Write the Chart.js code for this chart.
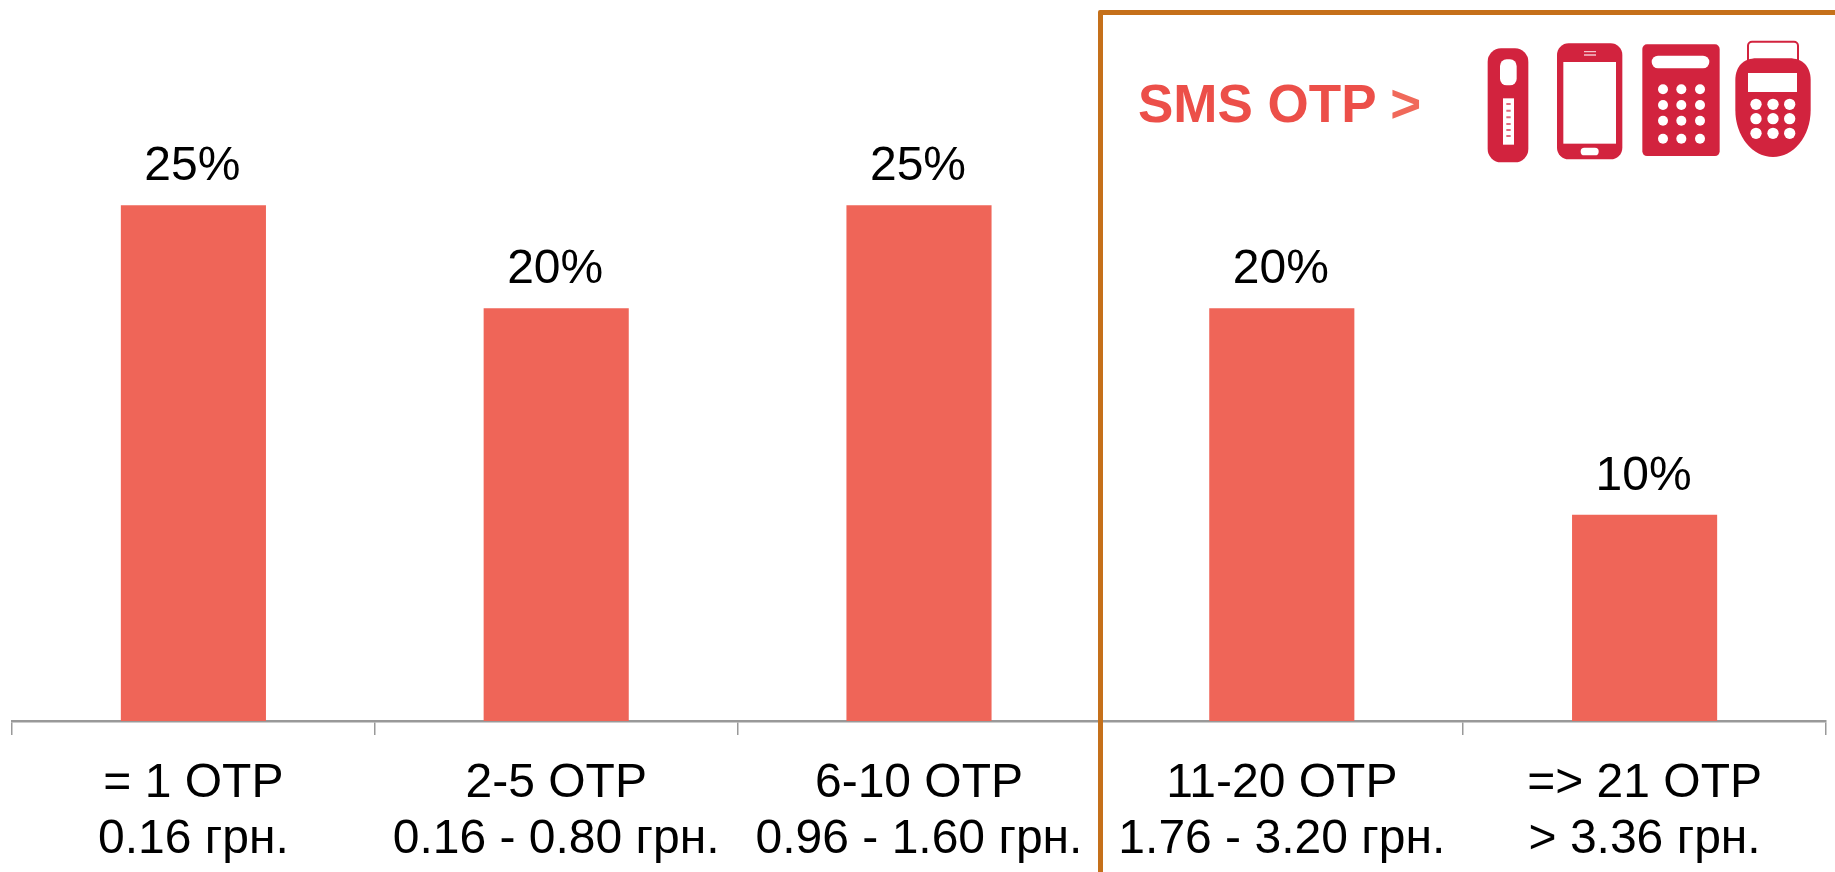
<!DOCTYPE html>
<html>
<head>
<meta charset="utf-8">
<title>SMS OTP</title>
<script src="https://cdn.jsdelivr.net/npm/chart.js@4/dist/chart.umd.min.js"></script>
<style>
    html, body { margin: 0; padding: 0; background: #fff; overflow: hidden; }
    #wrap { position: relative; width: 1835px; height: 872px; overflow: hidden; }
    #frame { position: absolute; left: 1098px; top: 10px; width: 800px; height: 900px; border: 5px solid #c5701a; border-radius: 2px; }
    #smsText { position: absolute; left: 1138px; top: 74px; font: bold 53px/60px "Liberation Sans", Arial, sans-serif; color: #ec4f49; white-space: pre; }
    #smsText span { color: #f0695a; }
    #icons { position: absolute; left: 1460px; top: 30px; }
</style>
</head>
<body>
<div id="wrap">
    <canvas id="otpChart" width="1835" height="872"></canvas>
    <div id="frame"></div>
    <div id="smsText">SMS OTP <span>&gt;</span></div>
    <svg id="icons" width="375" height="150" viewBox="0 0 1125 450">
        <!-- fob -->
        <rect x="83" y="55" width="122" height="342" rx="40" fill="#d2233e"/>
        <rect x="120" y="88" width="50" height="78" rx="20" fill="#fff"/>
        <rect x="129" y="205" width="33" height="139" fill="#fff"/>
        <path d="M139 222h13M139 242h13M139 262h13M139 282h13M139 300h13M139 318h13" stroke="#e06a7c" stroke-width="6" fill="none"/>
        <!-- phone -->
        <rect x="291" y="40" width="196" height="348" rx="35" fill="#d2233e"/>
        <rect x="310" y="96" width="158" height="245" fill="#fff"/>
        <path d="M372 65h36M372 75h36" stroke="#f3c3cb" stroke-width="4" fill="none"/>
        <rect x="362" y="353" width="54" height="23" rx="11" fill="#fff"/>
        <!-- calculator -->
        <rect x="547" y="43" width="232" height="335" rx="14" fill="#d2233e"/>
        <rect x="575" y="77" width="173" height="38" rx="19" fill="#fff"/>
        <g fill="#fff">
            <circle cx="609" cy="178" r="15"/><circle cx="664" cy="178" r="15"/><circle cx="720" cy="178" r="15"/>
            <circle cx="609" cy="225" r="15"/><circle cx="664" cy="225" r="15"/><circle cx="720" cy="225" r="15"/>
            <circle cx="609" cy="272" r="15"/><circle cx="664" cy="272" r="15"/><circle cx="720" cy="272" r="15"/>
            <circle cx="609" cy="326" r="15"/><circle cx="664" cy="326" r="15"/><circle cx="720" cy="326" r="15"/>
        </g>
        <!-- card reader -->
        <rect x="864" y="35" width="150" height="75" rx="12" fill="#fff" stroke="#d2233e" stroke-width="6"/>
        <path d="M826 150C826 110 850 85 890 85H988C1028 85 1052 110 1052 150V240C1052 320 1000 381 939 381C878 381 826 320 826 240Z" fill="#d2233e"/>
        <rect x="864" y="129" width="147" height="57" fill="#fff"/>
        <g fill="#fff">
            <circle cx="888" cy="223" r="17"/><circle cx="939" cy="223" r="17"/><circle cx="989" cy="223" r="17"/>
            <circle cx="888" cy="266" r="17"/><circle cx="939" cy="266" r="17"/><circle cx="989" cy="266" r="17"/>
            <circle cx="888" cy="310" r="17"/><circle cx="939" cy="310" r="17"/><circle cx="989" cy="310" r="17"/>
        </g>
    </svg>
</div>
<script>
const categories = [
    ['= 1 OTP', '0.16 грн.'],
    ['2-5 OTP', '0.16 - 0.80 грн.'],
    ['6-10 OTP', '0.96 - 1.60 грн.'],
    ['11-20 OTP', '1.76 - 3.20 грн.'],
    ['=> 21 OTP', '> 3.36 грн.']
];
const shares = [25, 20, 25, 20, 10];

const FONT = '"Liberation Sans", Arial, sans-serif';

// percent labels above the bars
const barLabels = {
    id: 'barLabels',
    afterDatasetsDraw(chart) {
        const ctx = chart.ctx;
        ctx.save();
        ctx.font = '48px ' + FONT;
        ctx.fillStyle = '#000';
        ctx.textAlign = 'center';
        ctx.textBaseline = 'alphabetic';
        chart.getDatasetMeta(0).data.forEach((bar, i) => {
            ctx.fillText(shares[i] + '%', bar.x - 1, bar.y - 25);
        });
        ctx.restore();
    }
};

new Chart(document.getElementById('otpChart').getContext('2d'), {
    type: 'bar',
    data: {
        labels: categories,
        datasets: [{
            data: shares,
            backgroundColor: '#ef6558',
            categoryPercentage: 1,
            barPercentage: 0.4
        }]
    },
    options: {
        responsive: false,
        animation: false,
        layout: { padding: { left: 12, right: 9, top: 102, bottom: 0 } },
        plugins: { legend: { display: false }, tooltip: { enabled: false } },
        scales: {
            x: {
                afterFit: (scale) => { scale.height = 151; },
                border: { color: '#999', width: 2.5 },
                grid: { color: '#999', lineWidth: 1.5, drawOnChartArea: false, tickLength: 14 },
                ticks: {
                    color: '#000',
                    font: { family: FONT, size: 48, lineHeight: 1.16 },
                    padding: 21,
                    maxRotation: 0,
                    autoSkip: false
                }
            },
            y: { display: false, min: 0, max: 30 }
        }
    },
    plugins: [barLabels]
});
</script>
</body>
</html>
